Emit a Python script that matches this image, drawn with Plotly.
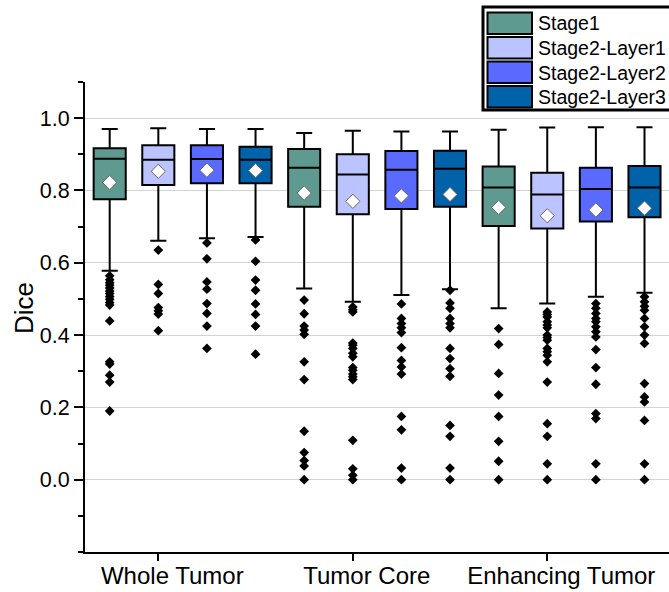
import plotly.graph_objects as go

# ---------------- data ----------------
categories = ["Whole Tumor", "Tumor Core", "Enhancing Tumor"]
series = ["Stage1", "Stage2-Layer1", "Stage2-Layer2", "Stage2-Layer3"]
colors = ["#5E9A8F", "#BCC4FF", "#5A6AFF", "#0062A8"]
y_tick_values = [0.0, 0.2, 0.4, 0.6, 0.8, 1.0]
y_title = "Dice"

stage1_upper = [0.970, 0.959, 0.968]
stage1_q3 = [0.917, 0.915, 0.866]
stage1_median = [0.888, 0.863, 0.808]
stage1_q1 = [0.776, 0.755, 0.702]
stage1_lower = [0.578, 0.529, 0.474]
stage1_mean = [0.822, 0.793, 0.753]
stage1_outliers = [
    [0.564, 0.553, 0.545, 0.538, 0.530, 0.522, 0.515, 0.507, 0.499, 0.490, 0.483,
     0.439, 0.326, 0.320, 0.289, 0.270, 0.190],
    [0.497, 0.459, 0.425, 0.414, 0.402, 0.326, 0.277, 0.134, 0.075, 0.053, 0.038, 0.0],
    [0.418, 0.374, 0.294, 0.234, 0.175, 0.106, 0.051, 0.0],
]

layer1_upper = [0.972, 0.965, 0.974]
layer1_q3 = [0.925, 0.900, 0.849]
layer1_median = [0.885, 0.844, 0.789]
layer1_q1 = [0.815, 0.734, 0.695]
layer1_lower = [0.661, 0.492, 0.487]
layer1_mean = [0.853, 0.770, 0.730]
layer1_outliers = [
    [0.635, 0.540, 0.515, 0.476, 0.467, 0.458, 0.412],
    [0.478, 0.470, 0.464, 0.378, 0.372, 0.363, 0.350, 0.340, 0.310, 0.303, 0.292,
     0.285, 0.277, 0.109, 0.030, 0.012, 0.0],
    [0.464, 0.457, 0.450, 0.437, 0.428, 0.420, 0.400, 0.393, 0.386, 0.363, 0.354,
     0.344, 0.326, 0.270, 0.155, 0.120, 0.044, 0.0],
]

layer2_upper = [0.970, 0.963, 0.975]
layer2_q3 = [0.925, 0.909, 0.863]
layer2_median = [0.887, 0.857, 0.804]
layer2_q1 = [0.820, 0.749, 0.714]
layer2_lower = [0.668, 0.511, 0.506]
layer2_mean = [0.856, 0.785, 0.746]
layer2_outliers = [
    [0.655, 0.611, 0.547, 0.527, 0.487, 0.460, 0.425, 0.363],
    [0.486, 0.446, 0.432, 0.420, 0.407, 0.365, 0.330, 0.312, 0.292, 0.175, 0.138,
     0.032, 0.0],
    [0.487, 0.474, 0.460, 0.446, 0.437, 0.423, 0.409, 0.395, 0.360, 0.310, 0.264,
     0.183, 0.169, 0.044, 0.0],
]

layer3_upper = [0.970, 0.963, 0.975]
layer3_q3 = [0.921, 0.910, 0.868]
layer3_median = [0.885, 0.860, 0.808]
layer3_q1 = [0.820, 0.755, 0.726]
layer3_lower = [0.671, 0.527, 0.517]
layer3_mean = [0.855, 0.789, 0.751]
layer3_outliers = [
    [0.663, 0.604, 0.552, 0.524, 0.486, 0.457, 0.425, 0.347],
    [0.524, 0.489, 0.474, 0.446, 0.432, 0.420, 0.363, 0.335, 0.307, 0.286, 0.150,
     0.120, 0.032, 0.0],
    [0.506, 0.492, 0.480, 0.469, 0.446, 0.423, 0.400, 0.377, 0.266, 0.229, 0.215,
     0.164, 0.044, 0.0],
]

uppers = [stage1_upper, layer1_upper, layer2_upper, layer3_upper]
q3s = [stage1_q3, layer1_q3, layer2_q3, layer3_q3]
medians = [stage1_median, layer1_median, layer2_median, layer3_median]
q1s = [stage1_q1, layer1_q1, layer2_q1, layer3_q1]
lowers = [stage1_lower, layer1_lower, layer2_lower, layer3_lower]
means = [stage1_mean, layer1_mean, layer2_mean, layer3_mean]
outliers = [stage1_outliers, layer1_outliers, layer2_outliers, layer3_outliers]

# ---------------- layout constants ----------------
FONT = "Liberation Sans, Arial, sans-serif"
W, H = 669, 592
ML, MR, MT, MB = 85, 0, 82, 40
SLOT = 0.25        # spacing between boxes of one category (x units)
BOXW = 0.165       # box width (x units)
REF = 1            # series whose box sits on the category tick

fig = go.Figure()

for s, name in enumerate(series):
    xs = [i + (s - REF) * SLOT for i in range(len(categories))]
    fig.add_trace(go.Box(
        x=xs, q1=q1s[s], median=medians[s], q3=q3s[s],
        lowerfence=lowers[s], upperfence=uppers[s],
        width=BOXW, whiskerwidth=0.5,
        fillcolor=colors[s], line=dict(color="black", width=2),
        boxpoints=False, name=name, showlegend=False, hoverinfo="skip",
    ))
    ox, oy = [], []
    for i in range(len(categories)):
        ox += [xs[i]] * len(outliers[s][i])
        oy += outliers[s][i]
    fig.add_trace(go.Scatter(
        x=ox, y=oy, mode="markers", showlegend=False, hoverinfo="skip",
        marker=dict(symbol="diamond", size=7.5, color="black"),
    ))
    fig.add_trace(go.Scatter(
        x=xs, y=means[s], mode="markers", showlegend=False, hoverinfo="skip",
        marker=dict(symbol="diamond", size=11, color="white",
                    line=dict(color="#666666", width=1)),
    ))

# ---------------- manual legend ----------------
pw, ph = W - ML - MR, H - MT - MB


def px(x):
    return (x - ML) / pw


def py(y):
    return (H - MB - y) / ph


shapes = [
    dict(type="rect", xref="paper", yref="paper", x0=px(483), x1=px(672),
         y0=py(110), y1=py(7), fillcolor="white", line=dict(color="black", width=3),
         layer="above"),
]
annotations = []
row_h = 24.5
for s, name in enumerate(series):
    top = 12.5 + s * row_h
    shapes.append(dict(type="rect", xref="paper", yref="paper",
                       x0=px(487.5), x1=px(532), y0=py(top + 21.5), y1=py(top),
                       fillcolor=colors[s], line=dict(color="black", width=2),
                       layer="above"))
    annotations.append(dict(xref="paper", yref="paper", x=px(536), y=py(top + 11),
                            text=name, showarrow=False, xanchor="left",
                            yanchor="middle",
                            font=dict(family=FONT, size=19.5, color="black")))

# y-axis title placed like the original
annotations.append(dict(xref="paper", yref="paper", x=px(24), y=py(308),
                        text=y_title, textangle=-90, showarrow=False,
                        xanchor="center", yanchor="middle",
                        font=dict(family=FONT, size=26, color="black")))

fig.update_layout(
    width=W, height=H,
    margin=dict(l=ML, r=MR, t=MT, b=MB, autoexpand=False),
    paper_bgcolor="white", plot_bgcolor="white",
    font=dict(family=FONT, color="black"),
    shapes=shapes, annotations=annotations,
    showlegend=False,
)
fig.update_xaxes(
    range=[-0.377, 2.626], tickvals=list(range(len(categories))), ticktext=categories,
    showgrid=False, zeroline=False, showline=True, linecolor="black", linewidth=2,
    ticks="outside", ticklen=7, tickwidth=1.5, tickcolor="black",
    tickfont=dict(family=FONT, size=24, color="black"), ticklabelshift=14,
    ticklabelstandoff=-6, automargin=False,
)
fig.update_yaxes(
    range=[-0.2, 1.1], tickmode="array", tickvals=y_tick_values,
    ticktext=[f"{v:.1f}" for v in y_tick_values],
    showgrid=True, gridcolor="#D3D3D3", gridwidth=1, zeroline=False,
    showline=True, linecolor="black", linewidth=2,
    ticks="outside", ticklen=9, tickwidth=1.5, tickcolor="black",
    minor=dict(tickmode="linear", dtick=0.1, tick0=0, ticks="outside", ticklen=5,
               tickwidth=1.5, tickcolor="black", showgrid=False),
    tickfont=dict(family=FONT, size=21.5, color="black"), automargin=False,
)

fig.write_html("out.html", config={"displayModeBar": False},
               post_script="document.body.style.margin='0';")
